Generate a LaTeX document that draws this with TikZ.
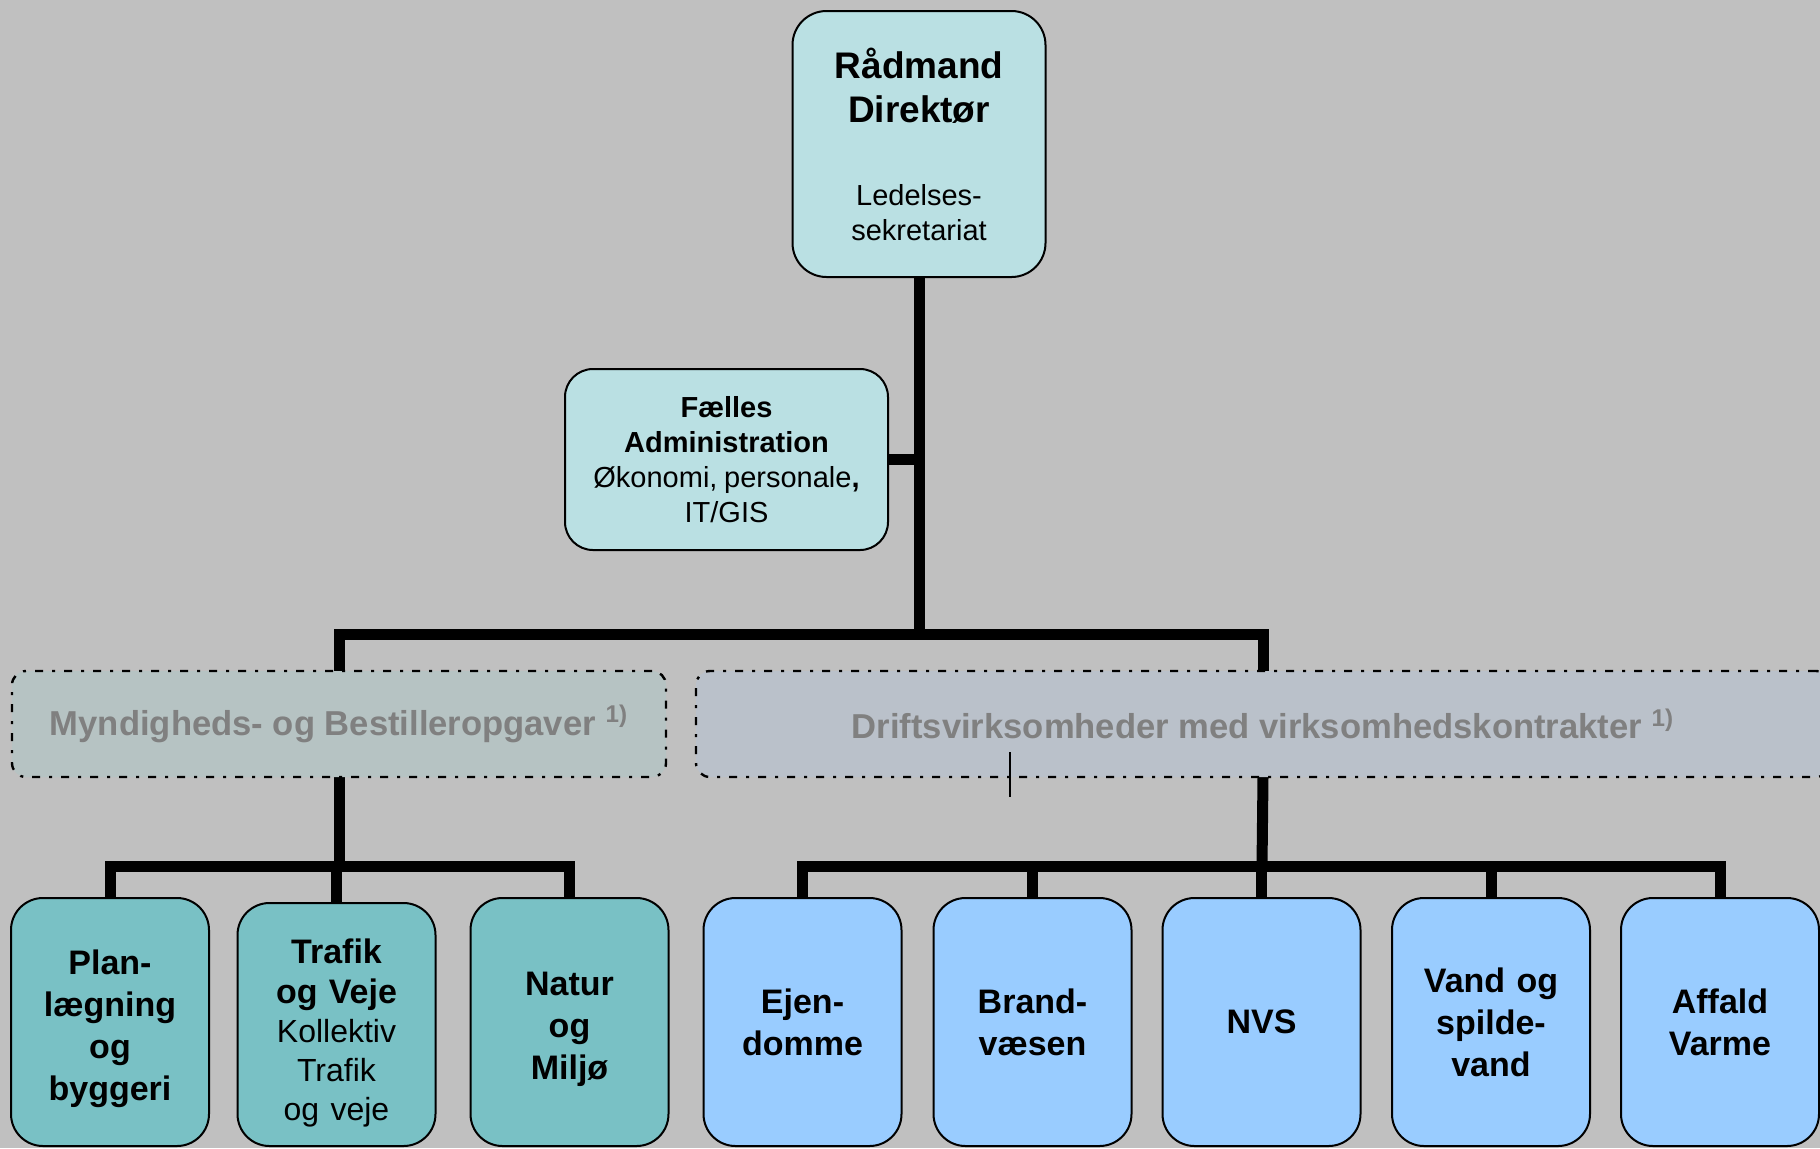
\documentclass[tikz,border=0pt]{standalone}
\usepackage{fontspec}
\setmainfont{Liberation Sans}
\usetikzlibrary{backgrounds}
\definecolor{cBg}{HTML}{C0C0C0}
\definecolor{cLight}{HTML}{BAE0E3}
\definecolor{cTeal}{HTML}{79C1C5}
\definecolor{cBlue}{HTML}{99CCFF}
\definecolor{cMyn}{HTML}{B6C3C3}
\definecolor{cDrift}{HTML}{BAC1CA}
\definecolor{cGray}{HTML}{808080}
\newcommand\fsz[2]{\fontsize{#1pt}{#2pt}\selectfont}
\newcommand\nodepth{\par\vspace{-\prevdepth}}
\begin{document}
\begin{tikzpicture}[x=0.5pt,y=-0.5pt,
  orgbox/.style={draw=black, line width=1pt, align=center, inner sep=0pt, outer sep=0pt, text=black},
  topbox/.style={orgbox, fill=cLight, rounded corners=17pt, minimum width=126.5pt, minimum height=133pt, text width=120pt},
  faelbox/.style={orgbox, fill=cLight, rounded corners=14pt, minimum width=161.5pt, minimum height=90.5pt, text width=155pt},
  groupbox/.style={draw=black, line width=1.2pt, dash pattern=on 4pt off 4.5pt on 1.5pt off 4.5pt, rounded corners=7pt, minimum height=53pt, inner sep=0pt, outer sep=0pt, text=cGray, font=\fsz{17.3}{20}\bfseries},
  unitbox/.style={orgbox, rounded corners=16pt, minimum width=99pt, minimum height=124pt, text width=95pt, font=\fsz{17}{21}\bfseries},
  tealbox/.style={unitbox, fill=cTeal},
  bluebox/.style={unitbox, fill=cBlue},
  conn/.style={line width=5.5pt, line join=miter}
]
\useasboundingbox (0,0) rectangle (1820,1148);

\node[topbox] (top) at (919,144) {{\fsz{18.5}{22}\bfseries Rådmand\par Direktør\par}\vspace{24pt}{\fsz{14.5}{17.5}Ledelses-\par sekretariat\par}};
\node[faelbox] (fael) at (726.5,459.5) {\fsz{14.5}{17.5}\textbf{Fælles}\par\textbf{Administration}\par Økonomi, personale\textbf{,}\par IT/GIS\par};

\node[groupbox, fill=cMyn, minimum width=327pt] (myn) at (339,724) {Myndigheds- og Bestilleropgaver \textsuperscript{1)}};
\node[groupbox, fill=cDrift, minimum width=567pt] (drift) at (1263,724) {Driftsvirksomheder med virksomhedskontrakter \textsuperscript{1)}};

\node[tealbox] (plan) at (110,1022) {\rule{0pt}{15.5pt}Plan-\par lægning\par og\par byggeri\nodepth};
\node[tealbox, minimum height=121.5pt] (trafik) at (336.5,1024.5) {\fsz{17}{20}\bfseries\rule{0pt}{17.5pt}Trafik\par og Veje\par\fsz{16}{19.5}\mdseries Kollektiv\par Trafik\par og veje\nodepth};
\node[tealbox] (natur) at (569.5,1022) {\rule{0pt}{15pt}Natur\par og\par Miljø\nodepth};
\node[bluebox] (ejen) at (802.5,1022) {Ejen-\par domme\nodepth};
\node[bluebox] (brand) at (1032.5,1022) {Brand-\par væsen\nodepth};
\node[bluebox] (nvs) at (1261.5,1022) {NVS\nodepth};
\node[bluebox] (vand) at (1491,1022) {Vand og\par spilde-\par vand\nodepth};
\node[bluebox] (affald) at (1720,1022) {Affald\par Varme\nodepth};

\coordinate (bar1) at (919,634);
\coordinate (bar2) at (339,866);
\coordinate (bar3) at (1262,866);
\coordinate (m1) at (1010,752);
\coordinate (m2) at (1010,797);

\begin{pgfonlayer}{background}
  \fill[cBg] (0,0) rectangle (1820,1148);
  \draw[conn] (top.south) -- (bar1);
  \draw[conn] (fael.east) -- (fael.east -| top.south);
  \draw[conn] (myn.north) |- (bar1) -| (drift.north);
  \draw[conn] (myn.south) -- (bar2);
  \draw[conn] (plan.north) |- (bar2) -| (natur.north);
  \draw[conn] (trafik.north) -- (trafik.north |- bar2);
  \draw[conn] (drift.south) -- (bar3);
  \draw[conn] (ejen.north) |- (bar3) -| (affald.north);
  \draw[conn] (brand.north) -- (brand.north |- bar3);
  \draw[conn] (nvs.north) -- (nvs.north |- bar3);
  \draw[conn] (vand.north) -- (vand.north |- bar3);
\end{pgfonlayer}
\draw[line width=0.8pt] (m1) -- (m2);
\end{tikzpicture}
\end{document}
